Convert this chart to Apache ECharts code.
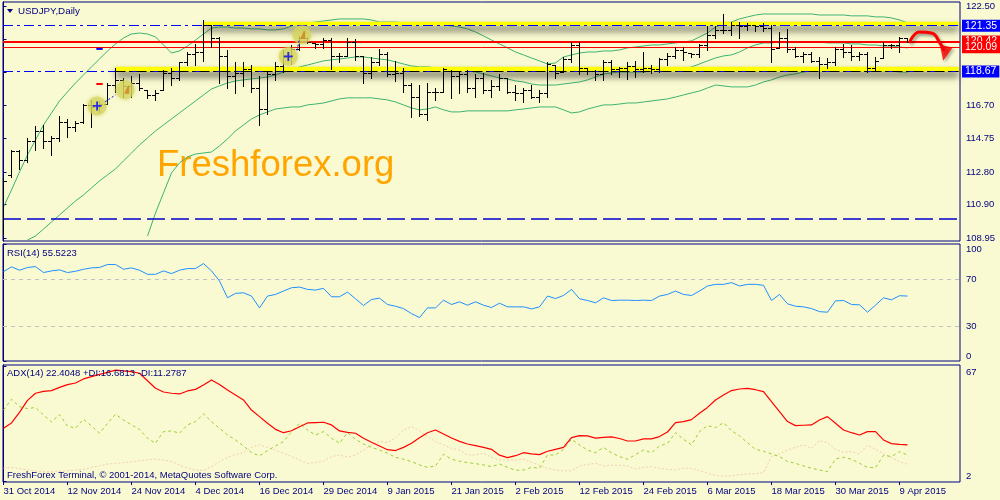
<!DOCTYPE html>
<html><head><meta charset="utf-8">
<script src="https://cdn.jsdelivr.net/npm/echarts@6/dist/echarts.min.js"></script>
<style>html,body{margin:0;padding:0;background:#FAFAD2;}#c{width:1000px;height:500px;}</style>
</head><body><div id="c"></div>
<script>
// ---- x axis ticks (bar index -> date label) ----
const tickIndex = [0,8,16,24,32,40,48,56,64,72,80,88,96,104,112];
const tickLabels = ['31 Oct 2014','12 Nov 2014','24 Nov 2014','4 Dec 2014','16 Dec 2014','29 Dec 2014','9 Jan 2015','21 Jan 2015','2 Feb 2015','12 Feb 2015','24 Feb 2015','6 Mar 2015','18 Mar 2015','30 Mar 2015','9 Apr 2015'];

// ---- USDJPY daily OHLC (114 bars, 31 Oct 2014 .. 10 Apr 2015) ----
const open = [109.3,112.6,114.0,113.5,114.6,115.2,114.6,114.8,115.7,115.45,115.7,116.7,116.6,116.8,117.9,118.2,117.8,118.0,117.6,117.3,
117.6,118.6,118.3,119.2,119.7,119.8,121.4,120.6,119.6,118.4,118.6,118.8,117.7,116.5,118.5,119.0,119.5,120.0,120.6,120.35,
120.3,120.5,119.6,119.6,120.4,119.6,118.6,119.2,119.7,118.5,118.6,117.9,117.2,116.2,117.5,117.5,118.7,118.4,118.5,117.7,
118.3,117.6,117.8,118.3,117.5,117.4,117.6,117.2,117.4,119.05,118.65,119.4,120.2,118.9,118.7,118.5,119.2,118.8,118.9,119.0,
118.8,118.9,118.8,119.4,119.6,119.9,119.75,119.7,120.2,120.8,121.1,121.1,121.4,121.3,121.4,121.3,121.2,120.05,120.6,120.0,
119.6,119.7,119.3,119.1,119.2,120.0,119.8,119.6,119.7,118.9,119.45,120.2,120.2,120.6];
const high = [112.45,114.1,114.1,114.8,115.5,115.55,114.9,116.05,115.9,115.8,116.8,117.0,116.95,118.0,118.9,118.3,118.4,118.5,117.6,117.6,
118.76,118.9,119.25,119.8,120.3,121.7,121.4,120.7,119.9,119.2,119.25,119.05,118.4,118.7,119.25,119.9,120.2,120.75,120.7,120.35,
120.6,120.6,119.75,120.6,120.55,119.6,119.5,120.0,119.8,119.3,118.9,118.0,117.9,118.0,117.7,118.9,118.75,118.65,118.75,118.5,
118.6,118.2,118.5,118.3,117.9,117.7,117.9,117.6,119.25,119.05,119.5,120.4,120.4,118.9,118.75,119.35,119.35,118.95,119.2,119.3,
119.8,119.05,119.45,119.75,120.1,120.1,119.75,120.3,121.3,121.3,122.0,121.55,121.55,121.5,121.4,121.5,121.4,121.0,121.15,120.1,
119.8,119.8,119.5,119.45,120.1,120.3,120.2,119.8,119.8,119.5,120.4,120.3,120.7,120.6];
const low = [109.2,112.5,113.0,113.4,114.1,114.2,113.8,114.6,114.85,115.2,115.65,115.4,116.3,116.8,117.5,117.2,117.2,117.6,117.1,117.0,
117.6,117.9,118.2,119.05,119.05,119.3,120.1,118.0,117.7,117.4,117.8,117.5,115.55,116.2,118.2,118.65,119.1,119.93,120.35,120.05,
120.05,118.8,119.2,119.6,119.35,118.0,118.3,119.05,118.4,118.1,117.5,116.0,116.1,115.85,117.0,117.5,117.1,117.4,117.5,117.2,
117.4,117.2,117.6,117.4,117.0,116.9,117.1,116.9,117.2,118.3,118.65,119.2,118.5,118.5,118.2,118.2,118.5,118.35,118.25,118.35,
118.65,118.6,118.65,119.05,119.45,119.35,119.5,119.5,119.9,120.6,120.9,120.8,120.6,121.1,121.05,121.05,119.2,120.05,119.8,119.5,
119.2,119.2,118.3,118.85,119.05,119.5,119.35,119.35,118.65,118.75,119.45,120.05,119.8,120.4];
const close = [112.3,114.0,113.5,114.6,115.2,114.6,114.8,115.7,115.45,115.65,116.7,116.6,116.8,117.9,118.2,117.8,118.0,117.7,117.3,117.4,
118.6,118.3,119.2,119.7,119.8,121.4,120.6,119.6,118.4,118.6,118.8,117.7,116.5,118.5,119.0,119.5,120.0,120.6,120.4,120.3,
120.5,119.6,119.6,120.4,119.6,118.6,119.2,119.7,118.5,118.6,117.9,117.2,116.2,117.5,117.5,118.8,118.4,118.5,117.7,118.3,
117.6,117.8,118.3,117.5,117.4,117.6,117.2,117.4,119.1,118.6,119.4,120.2,118.9,118.7,118.5,119.2,118.8,118.9,119.0,118.8,
118.9,118.8,119.4,119.6,119.9,119.8,119.7,120.2,120.8,121.1,121.1,121.4,121.3,121.4,121.3,121.2,120.0,120.6,120.0,119.6,
119.7,119.3,119.1,119.2,120.0,119.8,119.6,119.7,118.9,119.3,120.2,120.2,120.6,120.42];

// ---- Bollinger-style envelope lines ----
const bbUpper = [110.76,111.75,112.80,113.80,114.67,115.55,116.25,116.95,117.48,118.00,118.47,118.94,119.40,119.87,120.28,120.63,120.86,120.92,120.86,120.69,
120.22,119.75,119.87,120.16,120.51,120.86,121.21,121.27,121.27,121.21,121.21,121.16,121.16,121.10,121.10,121.16,121.33,121.45,121.51,121.56,
121.62,121.68,121.74,121.74,121.74,121.74,121.68,121.56,121.56,121.56,121.51,121.51,121.51,121.45,121.45,121.39,121.33,121.27,121.16,120.98,
120.75,120.51,120.28,120.05,119.81,119.64,119.46,119.29,119.11,119.17,119.52,119.64,119.75,119.81,119.81,119.87,119.87,119.93,120.05,120.10,
120.16,120.22,120.22,120.28,120.34,120.40,120.46,120.69,120.92,121.27,121.45,121.56,121.74,121.86,121.97,122.03,122.03,122.03,122.03,122.03,
122.03,122.03,121.97,121.97,121.97,121.97,121.92,121.92,121.92,121.86,121.86,121.80,121.68,121.51];
const bbMiddle = [null,null,null,108.83,109.06,109.47,109.88,110.29,110.70,111.11,111.46,111.87,112.28,112.63,112.98,113.45,113.91,114.38,114.79,115.20,
115.55,115.90,116.25,116.60,116.95,117.30,117.65,117.83,118.00,118.12,118.18,118.24,118.29,118.35,118.47,118.64,118.76,118.94,119.05,119.17,
119.29,119.35,119.40,119.46,119.52,119.52,119.46,119.40,119.35,119.23,119.11,118.99,118.94,118.94,118.88,118.88,118.82,118.76,118.70,118.64,
118.53,118.41,118.29,118.24,118.12,118.06,117.94,117.88,117.88,117.88,117.94,118.00,118.06,118.18,118.35,118.53,118.59,118.64,118.64,118.64,
118.64,118.70,118.70,118.70,118.76,118.82,118.94,119.11,119.29,119.46,119.58,119.64,119.81,120.05,120.22,120.34,120.34,120.40,120.40,120.40,
120.40,120.40,120.40,120.34,120.34,120.34,120.28,120.28,120.22,120.22,120.16,120.16,120.10,120.05];
const bbLower = [null,null,null,null,null,null,null,null,null,null,null,null,null,null,null,null,null,null,109.06,110.41,
111.58,112.75,113.33,113.68,113.85,113.91,113.97,114.32,114.73,115.20,115.55,115.90,116.13,116.31,116.48,116.54,116.60,116.60,116.72,116.77,
116.83,116.95,117.07,117.13,117.13,117.13,117.13,117.07,117.01,116.89,116.72,116.54,116.43,116.48,116.60,116.43,116.31,116.31,116.37,116.37,
116.37,116.37,116.37,116.37,116.43,116.48,116.54,116.60,116.60,116.60,116.43,116.25,116.31,116.48,116.60,116.72,116.72,116.77,116.83,116.83,
116.89,116.95,117.01,117.07,117.18,117.30,117.42,117.53,117.71,117.88,117.83,117.77,117.77,117.77,117.88,118.06,118.18,118.35,118.47,118.53,
118.64,118.70,118.70,118.76,118.76,118.76,118.76,118.76,118.70,118.70,118.70,118.70,118.64,118.64];

// ---- RSI(14) ----
const rsi = [76.4,80.5,77.6,79.9,80.7,75.6,77.0,77.9,75.6,76.7,78.4,79.6,79.9,82.5,82.5,78.4,79.6,77.6,74.1,74.1,
77.0,74.7,77.6,79.0,79.0,83.3,77.0,68.4,54.0,57.8,58.3,55.5,45.4,55.5,56.9,59.8,62.6,63.2,61.2,60.6,
62.1,54.9,54.9,58.9,53.2,47.4,52.6,53.7,48.3,46.8,44.8,40.5,37.1,45.4,45.4,52.0,48.3,50.6,47.7,50.6,
47.7,45.7,49.4,46.3,46.3,46.3,44.5,46.3,55.5,53.4,56.0,61.2,53.2,51.7,49.7,54.0,51.7,52.0,52.0,51.7,
52.0,51.7,55.5,56.9,59.8,56.9,56.0,59.8,64.1,65.5,65.5,67.0,64.1,65.5,65.5,64.7,51.7,56.9,48.9,46.8,
46.3,44.8,42.2,41.7,51.4,51.7,48.3,48.0,41.7,47.7,54.0,52.3,55.8,55.5];

// ---- ADX(14), +DI, -DI ----
const adx = [31.8,34.8,40.8,47.6,51.6,52.7,53.1,54.9,56.5,57.4,59.7,61.0,62.3,63.4,64.7,64.2,63.8,62.9,58.7,54.4,
52.3,51.6,51.2,52.9,53.8,56.3,59.1,56.5,53.4,50.6,47.8,42.1,38.4,34.6,31.2,29.3,30.4,32.7,34.8,35.0,
35.2,33.7,30.3,29.5,29.0,26.2,23.9,21.8,19.7,19.2,21.0,23.3,26.5,29.3,30.8,28.6,26.3,24.4,22.9,22.0,
21.0,19.9,16.6,15.2,16.3,18.0,17.3,16.9,18.8,19.9,21.0,26.5,27.6,27.5,26.2,26.7,26.9,26.0,24.6,24.6,
25.8,25.8,27.1,29.7,35.0,35.6,36.7,40.3,43.6,47.8,50.6,53.1,54.0,54.4,53.6,52.5,46.8,41.2,35.6,33.3,
33.5,33.7,36.5,38.4,34.6,30.8,29.3,28.0,29.9,29.9,25.2,23.1,22.7,22.4];
const plusDI = [42.1,48.2,44.0,42.9,43.6,39.3,35.4,39.5,33.1,31.8,36.9,33.1,29.0,34.6,39.7,36.5,33.7,31.2,26.2,23.3,
29.9,30.3,29.0,33.7,35.6,39.9,35.6,31.8,28.0,25.2,21.8,18.0,16.2,19.2,21.8,24.3,29.9,34.6,30.8,28.0,
29.9,26.2,23.3,29.3,25.6,22.9,21.0,19.5,17.7,15.4,14.3,13.0,11.1,9.7,10.5,17.1,14.3,13.2,12.4,11.8,
11.1,10.1,11.6,9.7,8.1,8.2,9.7,9.2,16.7,16.7,19.9,25.6,22.4,19.5,18.0,21.0,17.9,15.8,14.3,16.9,
19.5,18.0,21.8,23.3,29.3,25.6,22.4,29.9,33.3,32.2,35.0,30.4,27.5,23.7,19.9,18.8,17.3,15.8,13.0,12.0,
10.5,9.2,8.2,7.3,14.5,15.4,14.3,12.0,9.7,9.5,16.5,15.8,18.6,16.7];
const minusDI = [9.2,9.7,9.0,8.2,7.7,7.3,7.1,7.5,7.7,8.2,8.6,9.7,10.5,11.6,12.0,12.4,12.8,13.5,13.9,14.3,
13.9,13.0,11.1,9.2,8.2,7.9,10.1,13.0,15.4,16.9,18.0,21.0,22.4,21.0,19.5,17.7,15.8,13.9,12.0,12.4,
13.3,15.8,16.7,15.4,16.7,19.5,22.4,24.3,23.7,26.2,30.8,32.7,30.4,27.1,24.3,22.4,20.5,19.5,16.7,16.7,
17.7,15.4,13.9,13.9,13.9,14.3,12.6,10.9,9.2,8.1,7.7,7.7,10.5,11.4,12.0,10.5,10.9,10.9,10.5,8.8,
9.7,10.1,9.2,8.6,8.2,9.2,9.2,7.9,6.4,5.2,4.7,4.9,5.6,6.0,6.2,6.7,15.8,17.3,19.5,21.0,
22.4,20.5,24.8,23.7,19.9,18.2,18.6,17.3,22.2,19.9,17.7,15.2,13.0,11.4];

// ---- price axis ticks / labels and drawn levels ----
const priceTicks = [122.50,120.55,118.60,116.70,114.75,112.80,110.90,108.95];
const priceLabels = [122.50,116.70,114.75,112.80,110.90,108.95];
const resistance = 121.35, support = 118.67, bidLevel = 120.42, redLevel = 120.09, lowDash = 110.05;
const rsiLevels = [70, 30];
// yellow highlighter bands: [startIndex, endIndex, lowPrice, highPrice]
const bandLow = [14, 119.4, 118.67, 118.95];
const bandHigh = [24.95, 119.4, 121.35, 121.58];
// trade marks (bar index, price)
const tradeCircles = [[11.7,116.66],[15.2,117.6],[35.6,119.55],[37.3,120.81]];
const buyMarks = [[11.7,116.66],[35.6,119.55]];
const closeMarks = [[15.4,117.6],[37.4,120.8]];
const tradeLine1 = [[12.7,116.9],[14.0,117.3]];
const tradeLine2 = [[36.7,119.9],[37.0,120.6]];
const slMark = [[11.6,117.94],[12.4,117.94]];
const tpMark = [[11.6,119.99],[12.4,119.99]];
// hand-drawn forecast arrow path (bar index, price) and its head
const arrowPath = [[113.3,120.40],[114.5,120.98],[116.0,120.92],[117.1,120.30],[117.5,119.95]];
const arrowHead = [[117.65,119.72]];

const NAVY = '#000080';
const FONT = "'Liberation Sans',Arial,sans-serif";
const FS = 9.5;
const XMIN = -0.0625, XMAX = 119.5625;

const ohlcData = open.map((o, i) => [i, o, high[i], low[i], close[i]]);
const toXY = arr => arr.map((v, i) => [i, v]);

function renderOHLC(params, api) {
  const i = api.value(0);
  const ph = api.coord([i, api.value(2)]);
  const pl = api.coord([i, api.value(3)]);
  const po = api.coord([i, api.value(1)]);
  const pc = api.coord([i, api.value(4)]);
  const x = Math.round(ph[0] - 0.5) + 0.5;
  const yo = Math.round(po[1]) + 0.5, yc = Math.round(pc[1]) + 0.5;
  const st = { stroke: '#000', lineWidth: 1 };
  return { type: 'group', children: [
    { type: 'line', shape: { x1: x, y1: Math.round(ph[1]), x2: x, y2: Math.round(pl[1]) + 1 }, style: st },
    { type: 'line', shape: { x1: x - 3.5, y1: yo, x2: x, y2: yo }, style: st },
    { type: 'line', shape: { x1: x, y1: yc, x2: x + 3.5, y2: yc }, style: st }
  ]};
}

function boxLabel(txt, bg) {
  return { show: true, position: 'end', distance: 2, formatter: txt, color: '#fff', backgroundColor: bg,
    padding: [1, 3, 0, 3], fontSize: 10.5, fontFamily: FONT, lineHeight: 11 };
}

const chart = echarts.init(document.getElementById('c'), null, { renderer: 'canvas' });
const grids = [
  { left: 3, right: 40, top: 2, height: 239 },
  { left: 3, right: 40, top: 244, height: 117 },
  { left: 3, right: 40, top: 365, height: 117 }
].map(g => Object.assign(g, { show: true, borderColor: NAVY, borderWidth: 1, backgroundColor: 'transparent' }));

const xAxes = [0, 1, 2].map(k => ({
  type: 'value', gridIndex: k, min: XMIN, max: XMAX, splitLine: { show: false },
  axisLine: { show: false },
  axisTick: k === 2 ? { show: true, customValues: tickIndex, length: 3, lineStyle: { color: NAVY } } : { show: false },
  axisLabel: k === 2 ? { show: true, customValues: tickIndex, align: 'left', margin: 4, color: NAVY, fontSize: FS, fontFamily: FONT,
    formatter: v => tickLabels[tickIndex.indexOf(Math.round(v))] } : { show: false }
}));

const baseLbl = { color: NAVY, fontSize: FS, fontFamily: FONT };
const yAxes = [
  { type: 'value', gridIndex: 0, position: 'right', min: 108.77, max: 122.73, splitLine: { show: false },
    axisLine: { show: true, lineStyle: { color: NAVY } },
    axisTick: { show: true, customValues: priceTicks, length: 3, lineStyle: { color: NAVY } },
    axisLabel: Object.assign({ customValues: priceLabels, margin: 6, formatter: v => v.toFixed(2) }, baseLbl) },
  { type: 'value', gridIndex: 1, position: 'right', min: 0, max: 100, splitLine: { show: false },
    axisLine: { show: true, lineStyle: { color: NAVY } },
    axisTick: { show: true, customValues: [100, 70, 30, 0], length: 3, lineStyle: { color: NAVY } },
    axisLabel: Object.assign({ customValues: [100, 70, 30, 0], margin: 6,
      formatter: v => v === 100 ? '{t|100}' : v === 0 ? '{b|0}' : '{m|' + v + '}',
      rich: { t: Object.assign({ padding: [10, 0, 0, 0] }, baseLbl), b: Object.assign({ padding: [0, 0, 10, 0] }, baseLbl), m: baseLbl } }, baseLbl) },
  { type: 'value', gridIndex: 2, position: 'right', min: 1.43, max: 67.57, splitLine: { show: false },
    axisLine: { show: true, lineStyle: { color: NAVY } },
    axisTick: { show: true, customValues: [67, 2], length: 3, lineStyle: { color: NAVY } },
    axisLabel: Object.assign({ customValues: [67, 2], margin: 6,
      formatter: v => v === 67 ? '{t|67}' : '{b|2}',
      rich: { t: Object.assign({ padding: [12, 0, 0, 0] }, baseLbl), b: Object.assign({ padding: [0, 0, 10, 0] }, baseLbl) } }, baseLbl) }
];

const lineS = (data, color, extra) => Object.assign({ type: 'line', data: data, showSymbol: false, symbol: 'none', silent: true,
  animation: false, lineStyle: { color: color, width: 1 }, itemStyle: { color: color }, connectNulls: false }, extra || {});

const dashDot = [10, 4, 3, 4];
const arrowShadow = { shadowColor: 'rgba(0,0,0,0.35)', shadowBlur: 3, shadowOffsetX: 2, shadowOffsetY: 2 };
const series = [
  // Bollinger lines
  lineS(toXY(bbUpper), '#3CB371', { xAxisIndex: 0, yAxisIndex: 0, z: 2 }),
  lineS(toXY(bbMiddle), '#3CB371', { xAxisIndex: 0, yAxisIndex: 0, z: 2 }),
  lineS(toXY(bbLower), '#3CB371', { xAxisIndex: 0, yAxisIndex: 0, z: 2,
    markArea: { silent: true, z: 3, animation: false,
      itemStyle: { color: '#FFFF00', shadowColor: 'rgba(40,40,30,0.8)', shadowBlur: 7, shadowOffsetY: 5 },
      data: [
        [{ coord: [bandLow[0], bandLow[3]] }, { coord: [bandLow[1], bandLow[2]] }],
        [{ coord: [bandHigh[0], bandHigh[3]] }, { coord: [bandHigh[1], bandHigh[2]] }]
      ] } }),
  // horizontal levels
  { type: 'line', xAxisIndex: 0, yAxisIndex: 0, data: [], silent: true, animation: false, z: 4,
    markLine: { silent: true, symbol: 'none', animation: false, z: 4,
      data: [
        { yAxis: resistance, lineStyle: { color: '#0000FF', type: dashDot, width: 1.2 }, label: boxLabel('121.35', '#0000FF') },
        { yAxis: bidLevel, lineStyle: { color: '#FF0000', type: 'solid', width: 2 }, label: boxLabel('120.42', '#FF0000') },
        { yAxis: redLevel, lineStyle: { color: '#FF0000', type: 'solid', width: 1 }, label: boxLabel('120.09', '#FF0000') },
        { yAxis: support, lineStyle: { color: '#0000FF', type: dashDot, width: 1.2 }, label: boxLabel('118.67', '#0000FF') },
        { yAxis: lowDash, lineStyle: { color: '#0000CD', type: [18, 6], width: 1.5 }, label: { show: false } },
        [{ coord: [bandLow[0], support], lineStyle: { color: '#000', type: dashDot, width: 1.2 }, label: { show: false } },
         { coord: [bandLow[1], support] }]
      ] } },
  // OHLC bars
  { type: 'custom', xAxisIndex: 0, yAxisIndex: 0, data: ohlcData, renderItem: renderOHLC, z: 6, silent: true,
    animation: false, encode: { x: 0, y: [1, 2, 3, 4] }, clip: true },
  // trade annotations
  { type: 'scatter', xAxisIndex: 0, yAxisIndex: 0, data: tradeCircles, symbol: 'circle', symbolSize: 19, z: 7, silent: true,
    animation: false,
    itemStyle: { color: 'rgba(214,214,96,0.85)', shadowBlur: 4, shadowColor: 'rgba(200,200,80,0.9)' } },
  lineS(tradeLine1, '#0000FF', { xAxisIndex: 0, yAxisIndex: 0, z: 8, lineStyle: { color: '#0000FF', width: 1, type: [2, 2] } }),
  lineS(tradeLine2, '#0000FF', { xAxisIndex: 0, yAxisIndex: 0, z: 8, lineStyle: { color: '#0000FF', width: 1, type: [2, 2] } }),
  lineS(slMark, '#FF0000', { xAxisIndex: 0, yAxisIndex: 0, z: 8, lineStyle: { color: '#FF0000', width: 2 } }),
  lineS(tpMark, '#0000FF', { xAxisIndex: 0, yAxisIndex: 0, z: 8, lineStyle: { color: '#0000FF', width: 2 } }),
  { type: 'scatter', xAxisIndex: 0, yAxisIndex: 0, data: buyMarks, z: 9, silent: true, animation: false,
    symbol: 'path://M4,0H6V4H10V6H6V10H4V6H0V4H4Z', symbolSize: 9, itemStyle: { color: '#0000FF' } },
  { type: 'scatter', xAxisIndex: 0, yAxisIndex: 0, data: closeMarks, z: 9, silent: true, animation: false,
    symbol: 'path://M0,10L5,0L7,0L7,10Z', symbolSize: [5, 8], itemStyle: { color: '#D08020' } },
  // red forecast arrow (curved stroke + head)
  lineS(arrowPath, '#FF0000', { xAxisIndex: 0, yAxisIndex: 0, z: 9, smooth: 0.5, clip: false,
    lineStyle: Object.assign({ color: '#FF0000', width: 3, cap: 'round' }, arrowShadow) }),
  { type: 'scatter', xAxisIndex: 0, yAxisIndex: 0, data: arrowHead, z: 9, silent: true, animation: false, clip: false,
    symbol: 'triangle', symbolSize: [13, 15], symbolRotate: 168,
    itemStyle: Object.assign({ color: '#FF0000' }, arrowShadow) },
  // RSI
  lineS(toXY(rsi), '#1E90FF', { xAxisIndex: 1, yAxisIndex: 1, z: 3,
    markLine: { silent: true, symbol: 'none', animation: false, label: { show: false },
      lineStyle: { color: '#C0C0C0', type: [4, 4], width: 1 },
      data: rsiLevels.map(v => ({ yAxis: v })) } }),
  // ADX
  lineS(toXY(minusDI), '#F2CDB0', { xAxisIndex: 2, yAxisIndex: 2, z: 2, lineStyle: { color: '#F2CDB0', width: 1, type: [2, 2] } }),
  lineS(toXY(plusDI), '#9ACD32', { xAxisIndex: 2, yAxisIndex: 2, z: 3, lineStyle: { color: '#9ACD32', width: 1, type: [3, 3] } }),
  lineS(toXY(adx), '#FF0000', { xAxisIndex: 2, yAxisIndex: 2, z: 4, lineStyle: { color: '#FF0000', width: 1.2 } })
];

const txt = (x, y, s, extra) => ({ type: 'text', x: x, y: y, silent: true, z: 10,
  style: Object.assign({ text: s, fill: NAVY, fontSize: FS, fontFamily: FONT, verticalAlign: 'middle', align: 'left' }, extra || {}) });

chart.setOption({
  backgroundColor: '#FAFAD2',
  animation: false,
  grid: grids,
  xAxis: xAxes,
  yAxis: yAxes,
  series: series,
  graphic: [
    { type: 'polygon', silent: true, z: 10, shape: { points: [[7, 9], [13, 9], [10, 13]] }, style: { fill: NAVY } },
    txt(18, 11, 'USDJPY,Daily', { fontSize: 9.8 }),
    txt(7, 253, 'RSI(14) 55.5223'),
    txt(7, 373, 'ADX(14) 22.4048 +DI:16.6813 -DI:11.2787'),
    txt(7, 475, 'FreshForex Terminal, \u00A9 2001-2014, MetaQuotes Software Corp.'),
    { type: 'text', x: 157, y: 147, silent: true, z: 1,
      style: { text: 'Freshforex.org', fill: '#FFA500', fontSize: 36.5, fontFamily: "'Liberation Sans',Arial,sans-serif", verticalAlign: 'top' } }
  ]
});
</script>
</body></html>
